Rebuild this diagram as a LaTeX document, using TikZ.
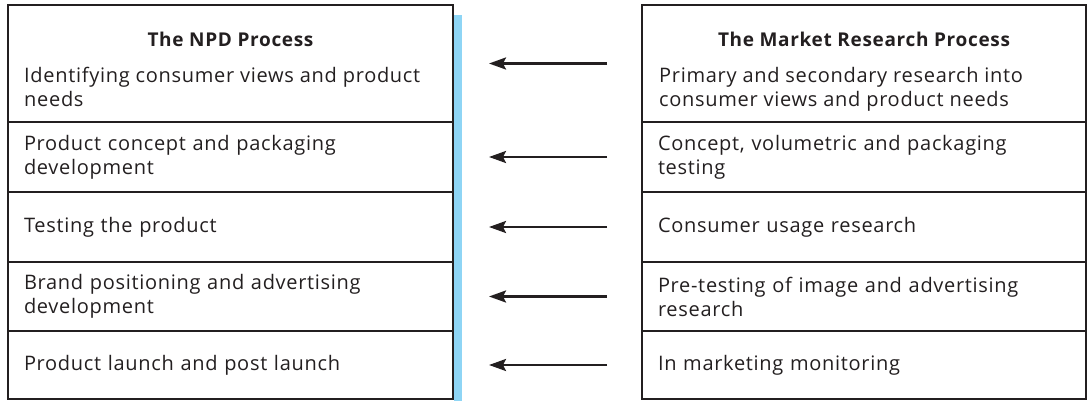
\documentclass[tikz,border=0pt]{standalone}
\usepackage{fontspec}
\setmainfont{Open Sans}[LetterSpace=3.5]
\usetikzlibrary{arrows.meta}
\definecolor{ink}{HTML}{231F20}
\definecolor{stripblue}{HTML}{8ED5F5}
\tikzset{
  cell/.style={draw=ink, line width=2pt, rectangle, anchor=north west,
    inner xsep=16pt, inner ysep=0pt, outer sep=0pt, align=left,
    text=ink, font=\fontsize{20}{24}\selectfont},
  leftcell/.style={cell, text width=413pt, minimum width=445pt},
  rightcell/.style={cell, text width=412pt, minimum width=444pt},
  heading/.style={anchor=base, text=ink, inner sep=0pt,
    font=\fontsize{19}{22}\selectfont\bfseries},
  bodytext/.style={anchor=base west, text=ink, inner sep=0pt, align=left,
    font=\fontsize{20}{24}\selectfont},
  feed/.style={draw=ink, line width=2.4pt,
    -{Stealth[length=17pt, width=12pt, inset=3pt]},
    shorten <=35pt, shorten >=36pt}
}
\begin{document}
\begin{tikzpicture}[x=1pt, y=-1pt]
\useasboundingbox (0,0) rectangle (1088,401);
% blue edge strip beside the NPD column
\fill[stripblue] (454,15) rectangle (462,401);

% NPD process column
\node[leftcell, minimum height=117pt] (l1) at (8,5) {};
\node[leftcell, minimum height=70pt] (l2) at (8,122)
  {Product concept and packaging\\development};
\node[leftcell, minimum height=70pt] (l3) at (8,192) {Testing the product};
\node[leftcell, minimum height=69pt] (l4) at (8,262)
  {Brand positioning and advertising\\development};
\node[leftcell, minimum height=68pt] (l5) at (8,331)
  {Product launch and post launch};
\node[heading] (lh) at (230.5,47) {The NPD Process};
% base anchor of a two-line node sits on its last line
\node[bodytext] (lt) at (24,107)
  {Identifying consumer views and product\\needs};

% market research process column
\node[rightcell, minimum height=117pt] (r1) at (642,5) {};
\node[rightcell, minimum height=70pt] (r2) at (642,122)
  {Concept, volumetric and packaging\\testing};
\node[rightcell, minimum height=70pt] (r3) at (642,192)
  {Consumer usage research};
\node[rightcell, minimum height=69pt] (r4) at (642,262)
  {Pre-testing of image and advertising\\research};
\node[rightcell, minimum height=68pt] (r5) at (642,331)
  {In marketing monitoring};
\node[heading] (rh) at (864,47) {The Market Research Process};
\node[bodytext] (rt) at (659,107)
  {Primary and secondary research into\\consumer views and product needs};

% research feeding each development stage
\foreach \i in {1,...,5}
  \draw[feed] (r\i.west) -- (l\i.east);
\end{tikzpicture}
\end{document}
